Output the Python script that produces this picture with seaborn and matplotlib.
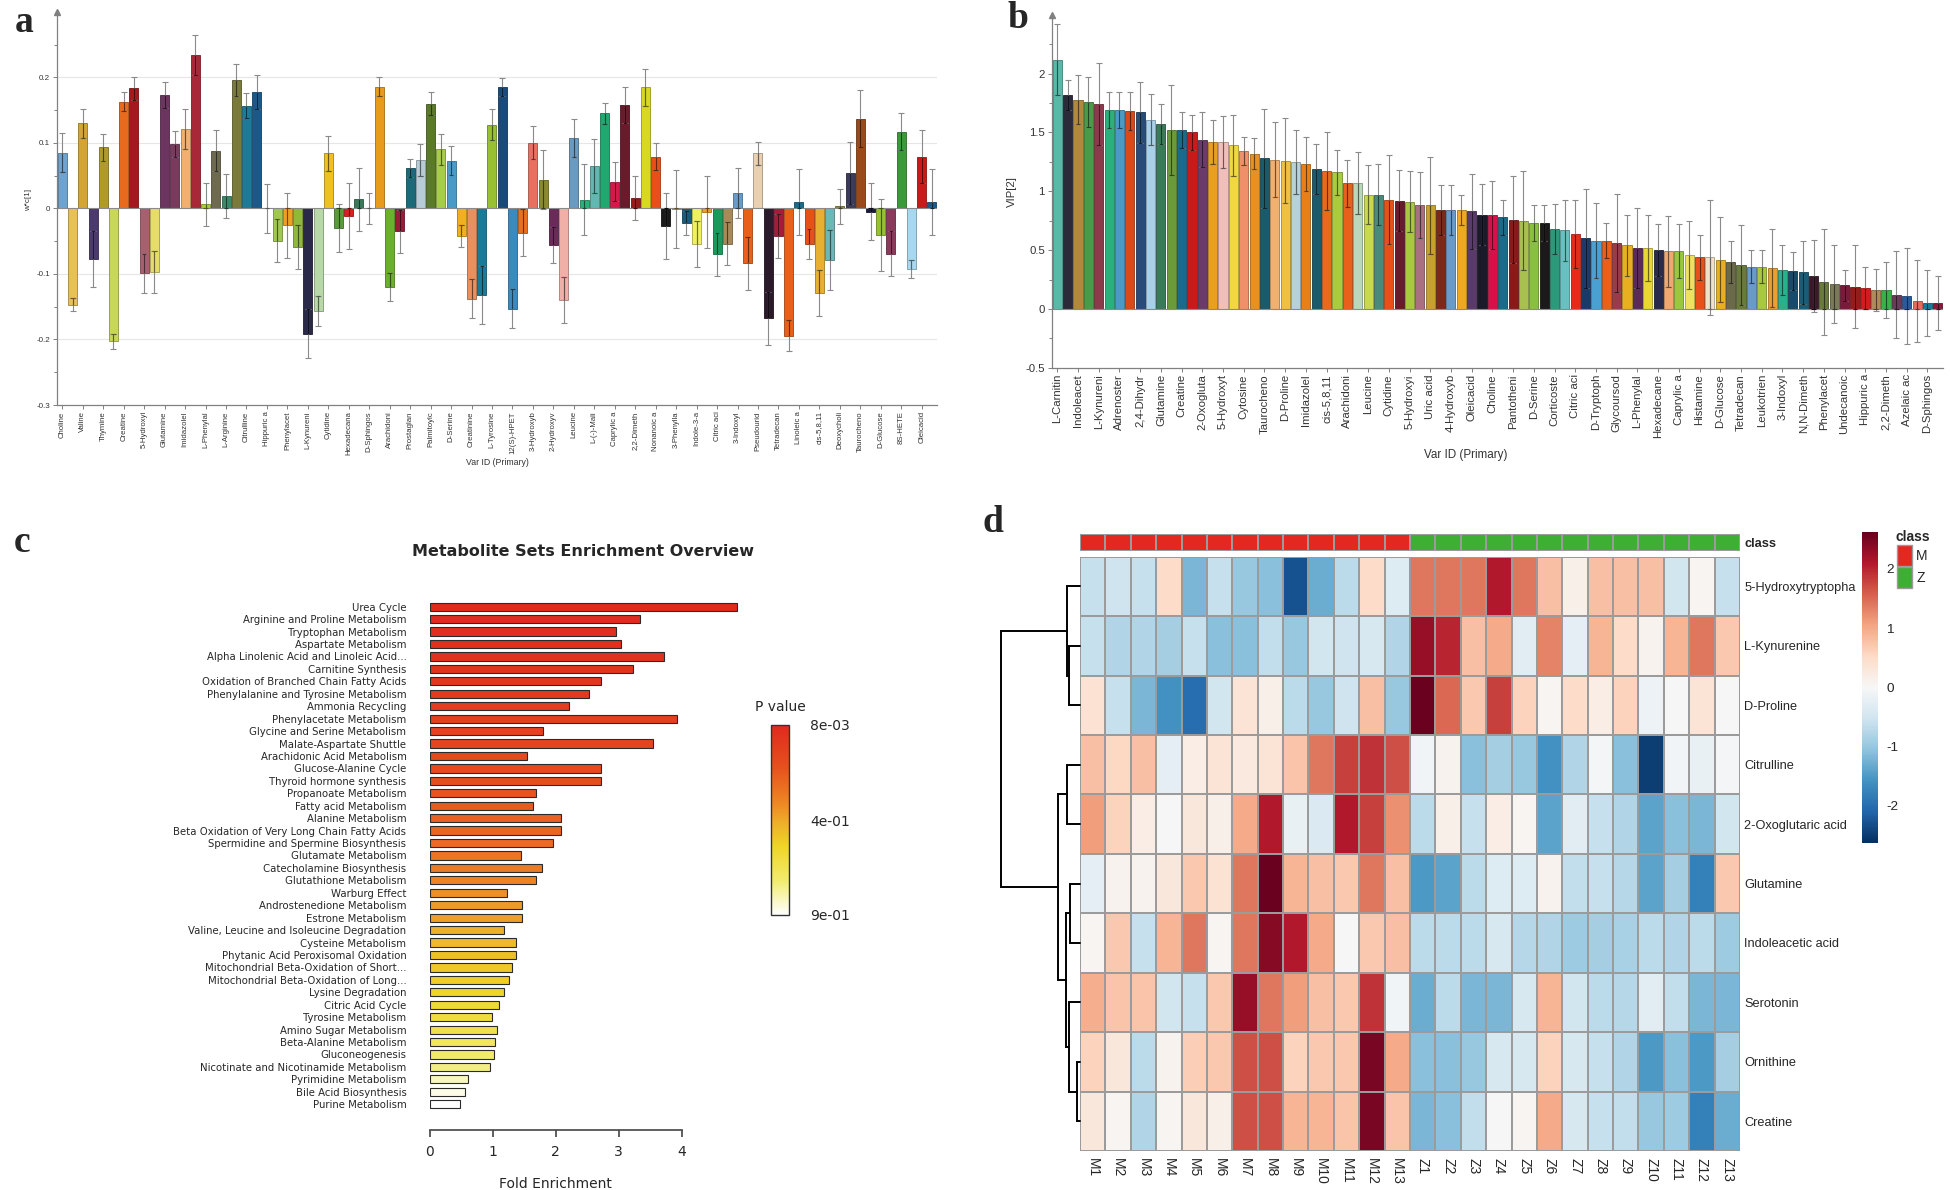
import numpy as np
import pandas as pd
import matplotlib
matplotlib.use("Agg")
import matplotlib.pyplot as plt
import seaborn as sns
from matplotlib.colors import LinearSegmentedColormap, ListedColormap, Normalize, to_rgb
from matplotlib.cm import ScalarMappable
from matplotlib.patches import Patch
from matplotlib import font_manager

# ---------------- data ----------------
# panel a: loadings w*c[1]
a_labels = ["Choline", "Valine", "Thymine", "Creatine", "5-Hydroxyi", "Glutamine", "Imidazolel",
            "L-Phenylal", "L-Arginine", "Citrulline", "Hippuric a", "Phenylacet", "L-Kynureni",
            "Cytidine", "Hexadecana", "D-Sphingos", "Arachidoni", "Prostaglan", "Palmitoylc",
            "D-Serine", "Creatinine", "L-Tyrosine", "12(S)-HPET", "3-Hydroxyb", "2-Hydroxyv",
            "Leucine", "L-(-)-Mali", "Caprylic a", "2,2-Dimeth", "Nonanoic a", "3-Phenylla",
            "Indole-3-a", "Citric aci", "3-Indoxyl", "Pseudourid", "Tetradecan", "Linoleic a",
            "cis-5,8,11", "Deoxycholi", "Taurocheno", "D-Glucose", "8S-HETE", "Oleicacid"]
a_values = [0.085, -0.147, 0.130, -0.077, 0.093, -0.203, 0.163, 0.183, -0.099, -0.097,
            0.173, 0.098, 0.121, 0.234, 0.006, 0.088, 0.019, 0.196, 0.157, 0.178,
            0.000, -0.049, -0.026, -0.059, -0.191, -0.156, 0.084, -0.030, -0.012, 0.014,
            0.000, 0.186, -0.120, -0.035, 0.062, 0.074, 0.160, 0.090, 0.073, -0.042,
            -0.138, -0.132, 0.128, 0.185, -0.153, -0.037, 0.100, 0.044, -0.056, -0.140,
            0.107, 0.013, 0.065, 0.145, 0.041, 0.158, 0.016, 0.185, 0.079, -0.027,
            -0.001, -0.022, -0.054, -0.006, -0.070, -0.054, 0.024, -0.084, 0.084, -0.168,
            -0.042, -0.194, 0.010, -0.054, -0.129, -0.079, 0.003, 0.054, 0.137, -0.005,
            -0.041, -0.069, 0.117, -0.092, 0.079, 0.010]
a_err = [0.030, 0.010, 0.022, 0.043, 0.021, 0.012, 0.014, 0.018, 0.030, 0.032,
         0.020, 0.020, 0.030, 0.030, 0.033, 0.031, 0.033, 0.024, 0.019, 0.026,
         0.037, 0.033, 0.050, 0.034, 0.038, 0.023, 0.027, 0.036, 0.050, 0.048,
         0.024, 0.014, 0.022, 0.033, 0.014, 0.024, 0.017, 0.024, 0.022, 0.017,
         0.030, 0.044, 0.023, 0.014, 0.030, 0.036, 0.025, 0.045, 0.028, 0.035,
         0.029, 0.054, 0.041, 0.016, 0.030, 0.028, 0.033, 0.028, 0.021, 0.050,
         0.060, 0.018, 0.035, 0.055, 0.033, 0.033, 0.038, 0.040, 0.018, 0.040,
         0.034, 0.023, 0.050, 0.023, 0.035, 0.046, 0.027, 0.047, 0.044, 0.043,
         0.055, 0.034, 0.028, 0.014, 0.040, 0.050]
a_colors = ["#6fa3cf", "#e8c05a", "#d4a534", "#4b3a6e", "#b09a28", "#c8d65a", "#e86a1e", "#a8171c",
            "#a8606e", "#e6dc6a", "#6b3560", "#7a3a5e", "#f0b070", "#a82838", "#a8cc3a", "#6e6a50",
            "#3a8a6a", "#7a7a3a", "#1d7a9a", "#1a5a8a", "#cccccc", "#a0c850", "#f0a020", "#90b83a",
            "#2a2a48", "#b8d8a8", "#f0c020", "#5a9a3a", "#d81e1e", "#3a7a5a", "#cccccc", "#e89a1a",
            "#6ab02a", "#9a1a3a", "#1a6a7a", "#b8ccd8", "#5a7a2a", "#a8cc48", "#4a9ac8", "#f0b020",
            "#e89060", "#1a7a9a", "#98c030", "#1a4a7a", "#3a8ac0", "#e8701a", "#e87060", "#8a8a2a",
            "#6a2a5a", "#f0b0a8", "#6a9ac0", "#2ab07a", "#60b8b0", "#20a870", "#d8184a", "#6a1a2a",
            "#9a1a1a", "#d8d820", "#e8501a", "#1a1a1a", "#e8a040", "#1a5a7a", "#f0f060", "#f0a020",
            "#1a9a5a", "#a88a5a", "#6a9ac8", "#e8601a", "#e8d0b0", "#2a1a2a", "#a81a3a", "#e8601a",
            "#1a6a8a", "#e8501a", "#e8b030", "#6ab8b8", "#8a8a3a", "#3a3a5a", "#9a4a1a", "#1a1a3a",
            "#98c030", "#8a3a5a", "#3a9a3a", "#a8d8f0", "#c81a1a", "#1a5a8a"]

# panel b: VIP[2]
b_labels = ["L-Carnitin", "Indoleacet", "L-Kynureni", "Adrenoster", "2,4-Dihydr", "Glutamine",
            "Creatine", "2-Oxogluta", "5-Hydroxyt", "Cytosine", "Taurocheno", "D-Proline",
            "Imidazolel", "cis-5,8,11", "Arachidoni", "Leucine", "Cytidine", "5-Hydroxyi",
            "Uric acid", "4-Hydroxyb", "Oleicacid", "Choline", "Pantotheni", "D-Serine",
            "Corticoste", "Citric aci", "D-Tryptoph", "Glycoursod", "L-Phenylal", "Hexadecane",
            "Caprylic a", "Histamine", "D-Glucose", "Tetradecan", "Leukotrien", "3-Indoxyl",
            "N,N-Dimeth", "Phenylacet", "Undecanoic", "Hippuric a", "2,2-Dimeth", "Azelaic ac",
            "D-Sphingos"]
b_values = [2.12, 1.82, 1.78, 1.76, 1.74, 1.69, 1.69, 1.68, 1.67, 1.61,
            1.57, 1.52, 1.52, 1.50, 1.44, 1.42, 1.42, 1.39, 1.34, 1.32,
            1.28, 1.27, 1.26, 1.25, 1.23, 1.19, 1.17, 1.16, 1.07, 1.07,
            0.97, 0.97, 0.93, 0.92, 0.91, 0.88, 0.88, 0.84, 0.84, 0.84,
            0.83, 0.80, 0.80, 0.78, 0.76, 0.75, 0.73, 0.73, 0.68, 0.67,
            0.64, 0.60, 0.58, 0.58, 0.56, 0.54, 0.52, 0.52, 0.50, 0.49,
            0.49, 0.46, 0.44, 0.44, 0.42, 0.40, 0.37, 0.36, 0.36, 0.35,
            0.33, 0.32, 0.31, 0.28, 0.23, 0.21, 0.20, 0.19, 0.18, 0.16,
            0.16, 0.12, 0.11, 0.07, 0.05, 0.05]
b_err = [0.30, 0.13, 0.21, 0.21, 0.35, 0.15, 0.15, 0.16, 0.26, 0.22,
         0.17, 0.38, 0.15, 0.15, 0.23, 0.19, 0.22, 0.26, 0.12, 0.13,
         0.42, 0.32, 0.36, 0.27, 0.23, 0.21, 0.33, 0.19, 0.20, 0.26,
         0.25, 0.26, 0.38, 0.26, 0.26, 0.28, 0.41, 0.21, 0.21, 0.13,
         0.32, 0.26, 0.29, 0.15, 0.37, 0.42, 0.15, 0.15, 0.21, 0.26,
         0.29, 0.42, 0.32, 0.15, 0.42, 0.26, 0.34, 0.28, 0.22, 0.30,
         0.23, 0.29, 0.19, 0.49, 0.36, 0.18, 0.34, 0.14, 0.14, 0.33,
         0.21, 0.16, 0.27, 0.31, 0.45, 0.33, 0.13, 0.35, 0.18, 0.18,
         0.24, 0.37, 0.41, 0.35, 0.28, 0.23]
b_colors = ["#5ab8a8", "#2a2a3a", "#b08a3a", "#4a9a4a", "#8a3a4a", "#2ab07a", "#4a9ac8", "#d84a1a",
            "#2a4a7a", "#a8d0e8", "#3a7a5a", "#6a9a3a", "#1a6a8a", "#c81a1a", "#6a3a6a", "#e8a020",
            "#f0c0b8", "#f0d840", "#f0906a", "#e89020", "#1a5a6a", "#f0b070", "#f0c040", "#b8d0d8",
            "#e8801a", "#1a5a6a", "#e86a1a", "#a8cc40", "#e8601a", "#b8d8b8", "#c8d850", "#4a8a7a",
            "#e8501a", "#6a1a2a", "#a8c840", "#a87080", "#c8a030", "#7a2a1a", "#6a9ac8", "#f0a820",
            "#5a3a6a", "#1a1a2a", "#d8104a", "#1a6a8a", "#8a1a1a", "#a8c050", "#8ac040", "#1a1a1a",
            "#2a9a7a", "#6ac0c0", "#e82a1a", "#1a3a6a", "#4aa0d0", "#e8601a", "#9a3a4a", "#e8b020",
            "#5a2a5a", "#e8d830", "#2a2a4a", "#f0a870", "#98c840", "#f0e060", "#e8501a", "#f0e0c8",
            "#e8b020", "#6a6a4a", "#6a7a3a", "#6a9ac8", "#a8c840", "#e8a030", "#2ab08a", "#1a4a6a",
            "#1a5a7a", "#3a1a2a", "#6a7a3a", "#7a7a5a", "#7a1a3a", "#9a1a1a", "#d81a1a", "#b08a5a",
            "#3ab04a", "#6a3a5a", "#2a5a9a", "#e86a5a", "#1a7a9a", "#8a1a3a"]

# panel c: enrichment
c_names = ["Urea Cycle", "Arginine and Proline Metabolism", "Tryptophan Metabolism",
           "Aspartate Metabolism", "Alpha Linolenic Acid and Linoleic Acid...", "Carnitine Synthesis",
           "Oxidation of Branched Chain Fatty Acids", "Phenylalanine and Tyrosine Metabolism",
           "Ammonia Recycling", "Phenylacetate Metabolism", "Glycine and Serine Metabolism",
           "Malate-Aspartate Shuttle", "Arachidonic Acid Metabolism", "Glucose-Alanine Cycle",
           "Thyroid hormone synthesis", "Propanoate Metabolism", "Fatty acid Metabolism",
           "Alanine Metabolism", "Beta Oxidation of Very Long Chain Fatty Acids",
           "Spermidine and Spermine Biosynthesis", "Glutamate Metabolism",
           "Catecholamine Biosynthesis", "Glutathione Metabolism", "Warburg Effect",
           "Androstenedione Metabolism", "Estrone Metabolism",
           "Valine, Leucine and Isoleucine Degradation", "Cysteine Metabolism",
           "Phytanic Acid Peroxisomal Oxidation", "Mitochondrial Beta-Oxidation of Short...",
           "Mitochondrial Beta-Oxidation of Long...", "Lysine Degradation", "Citric Acid Cycle",
           "Tyrosine Metabolism", "Amino Sugar Metabolism", "Beta-Alanine Metabolism",
           "Gluconeogenesis", "Nicotinate and Nicotinamide Metabolism", "Pyrimidine Metabolism",
           "Bile Acid Biosynthesis", "Purine Metabolism"]
c_fold = [4.88, 3.34, 2.95, 3.03, 3.72, 3.22, 2.72, 2.53, 2.21, 3.93,
          1.80, 3.54, 1.54, 2.72, 2.72, 1.69, 1.64, 2.08, 2.08, 1.96,
          1.44, 1.78, 1.69, 1.22, 1.47, 1.47, 1.18, 1.36, 1.36, 1.31,
          1.26, 1.18, 1.10, 0.98, 1.07, 1.03, 1.01, 0.95, 0.60, 0.55, 0.48]
c_pval = [0.008, 0.02, 0.03, 0.04, 0.05, 0.06, 0.07, 0.09, 0.11, 0.12,
          0.14, 0.15, 0.17, 0.18, 0.19, 0.22, 0.24, 0.26, 0.27, 0.29,
          0.32, 0.34, 0.36, 0.40, 0.42, 0.43, 0.47, 0.50, 0.52, 0.54,
          0.56, 0.58, 0.61, 0.63, 0.66, 0.70, 0.73, 0.76, 0.83, 0.87, 0.90]

# panel d: heatmap (z-scores)
d_rows = ["5-Hydroxytryptopha", "L-Kynurenine", "D-Proline", "Citrulline", "2-Oxoglutaric acid",
          "Glutamine", "Indoleacetic acid", "Serotonin", "Ornithine", "Creatine"]
d_cols = ["M%d" % i for i in range(1, 14)] + ["Z%d" % i for i in range(1, 14)]
d_class = ["M"] * 13 + ["Z"] * 13
d_values = [
    [-0.6, -0.55, -0.6, 0.5, -1.2, -0.6, -1.0, -1.1, -2.3, -1.3, -0.7, 0.5, -0.35,
     1.4, 1.4, 1.4, 2.1, 1.4, 0.8, 0.15, 0.8, 0.8, 0.8, -0.5, 0.05, -0.6],
    [-0.6, -0.8, -0.8, -0.9, -0.6, -1.1, -1.1, -0.65, -1.0, -0.5, -0.55, -0.45, -0.8,
     2.3, 2.0, 0.8, 1.0, -0.3, 1.3, -0.25, 0.9, 0.5, 0.1, 0.9, 1.4, 0.7],
    [0.4, -0.6, -1.2, -1.6, -2.0, -0.5, 0.35, 0.15, -0.7, -1.0, -0.55, 0.8, -1.0,
     2.6, 1.5, 0.7, 1.8, 0.6, 0.05, 0.5, 0.2, 0.6, -0.15, 0.0, 0.35, 0.0],
    [0.8, 0.55, 0.8, -0.25, 0.2, 0.35, 0.25, 0.35, 0.75, 1.4, 1.8, 1.9, 1.7,
     -0.1, 0.1, -1.1, -0.9, -1.0, -1.6, -0.8, -0.05, -1.1, -2.5, -0.1, -0.2, -0.05],
    [1.1, 0.6, 0.2, 0.0, 0.3, 0.15, 1.0, 2.1, -0.2, -0.4, 2.1, 1.8, 1.2,
     -0.7, 0.15, -0.6, 0.2, 0.05, -1.4, -0.3, -0.6, -0.8, -1.4, -1.1, -1.2, -0.5],
    [-0.25, 0.1, 0.1, 0.3, 0.7, 0.4, 1.4, 2.6, 0.9, 0.8, 0.7, 1.4, 0.8,
     -1.5, -1.4, -0.7, -0.35, -0.35, 0.1, -0.65, -0.6, -0.75, -1.4, -0.9, -1.8, 0.7],
    [0.05, 0.7, -0.6, 0.9, 1.4, 0.05, 1.4, 2.4, 2.1, 1.0, 0.0, 0.7, 0.8,
     -0.7, -0.7, -0.7, -0.45, -0.75, -0.8, -0.95, -0.9, -0.85, -0.7, -0.8, -0.7, -0.95],
    [0.95, 0.75, 0.75, -0.5, -0.6, 0.7, 2.3, 1.4, 1.1, 0.8, 0.7, 1.9, -0.1,
     -1.3, -0.7, -1.2, -1.2, -0.45, 0.9, -0.5, -0.7, -0.75, -0.3, -0.65, -1.2, -1.2],
    [0.6, 0.3, -0.7, 0.1, 0.65, 0.7, 1.7, 1.7, 0.6, 0.7, 0.7, 2.5, 1.0,
     -1.1, -1.1, -1.0, -0.45, -0.45, 0.6, -0.45, -0.6, -0.8, -1.5, -1.1, -1.5, -0.9],
    [0.3, 0.05, -0.8, 0.05, 0.3, 0.15, 1.7, 1.7, 0.9, 0.9, 0.75, 2.5, 0.75,
     -1.2, -1.1, -0.65, 0.0, 0.05, 1.0, -0.45, -0.6, -0.65, -1.0, -0.95, -1.8, -1.3],
]
# row dendrogram merges: (left, right, height); leaves 0-9, new nodes from 10
d_merges = [(1, 2, 11.3), (0, 10, 13.3), (3, 4, 12.7), (5, 6, 10.0), (8, 9, 3.3),
            (7, 14, 10.7), (13, 15, 14.0), (12, 16, 21.7), (11, 17, 79.0)]

# ---------------- setup ----------------
W, H = 1950, 1190


def rect(x0, y0, x1, y1):
    return [x0 / W, 1 - y1 / H, (x1 - x0) / W, (y1 - y0) / H]


def have(name):
    try:
        font_manager.findfont(font_manager.FontProperties(family=name), fallback_to_default=False)
        return True
    except Exception:
        return False


def darker(c, f=0.7):
    r, g, b = to_rgb(c)
    return (r * f, g * f, b * f)


sns.set_style("white")
plt.rcParams["font.family"] = ["DejaVu Sans"]
narrow = "Liberation Sans Narrow" if have("Liberation Sans Narrow") else "Liberation Sans"
lab_size = 10 if narrow == "Liberation Sans Narrow" else 9.2
lab_stretch = "condensed"

fig = plt.figure(figsize=(19.5, 11.9), dpi=100)
spine_c = "#808080"
txt_c = "#333333"


def simca_bars(ax, values, err, colors, labels, fs_tick, fs_lab):
    x = np.arange(len(values))
    keys = [str(i) for i in x]
    sns.barplot(x=x, y=values, hue=keys, palette=dict(zip(keys, colors)), legend=False,
                width=0.88, errorbar=None, saturation=1, ax=ax)
    for p in ax.patches:
        p.set_edgecolor(darker(p.get_facecolor()))
        p.set_linewidth(0.6)
    ax.errorbar(x, values, yerr=err, fmt="none", ecolor="#8a8a8a", elinewidth=0.8,
                capsize=2, capthick=0.8, zorder=5)
    # part of the whisker lying inside the bar is drawn darker
    v = np.array(values)
    e = np.array(err)
    inner = np.where(v >= 0, np.maximum(v - e, 0), np.minimum(v + e, 0))
    dark = [darker(c, 0.45) for c in colors]
    ax.vlines(x, v, inner, colors=dark, lw=0.8, zorder=6)
    ax.hlines(inner, x - 0.22, x + 0.22, colors=dark, lw=0.8, zorder=6)
    ax.axhline(0, color="#8a8a8a", lw=0.8, zorder=1)
    ax.set_xticks(x[::2])
    ax.set_xticklabels(labels, rotation=90, fontsize=fs_tick, color=txt_c, family="Liberation Sans")
    for s in ["top", "right"]:
        ax.spines[s].set_visible(False)
    for s in ["left", "bottom"]:
        ax.spines[s].set_color(spine_c)
        ax.spines[s].set_linewidth(0.9)
    ax.tick_params(axis="x", length=3, width=0.7, color=spine_c, pad=1.5, bottom=True)
    ax.tick_params(axis="y", which="both", width=0.7, color=spine_c, labelsize=fs_lab,
                   labelcolor=txt_c, pad=2, left=True)
    ax.tick_params(axis="y", which="major", length=3)
    ax.tick_params(axis="y", which="minor", length=2)
    ax.plot([0], [1], marker="^", color=spine_c, markersize=5, transform=ax.transAxes, clip_on=False)
    ax.set_xlabel("")
    ax.set_ylabel("")


# ---------------- panel a ----------------
axa = fig.add_axes(rect(57, 11.8, 937, 405))
simca_bars(axa, a_values, a_err, a_colors, a_labels, 5.6, 5.8)
for v in [-0.2, -0.1, 0.1, 0.2]:
    axa.axhline(v, color="#e6e6e6", lw=0.8, zorder=0)
axa.set_xlim(-0.52, 85.5)
axa.set_ylim(-0.3, 0.3)
axa.set_yticks([-0.3, -0.2, -0.1, 0, 0.1, 0.2])
axa.set_yticklabels(["-0.3", "-0.2", "-0.1", "0", "0.1", "0.2"], family="Liberation Sans")
axa.set_yticks(np.arange(-0.3, 0.3, 0.05), minor=True)
fig.text(29 / W, 1 - 200 / H, "w*c[1]", rotation=90, ha="center", va="center",
         fontsize=5.8, color=txt_c, family="Liberation Sans")
fig.text(497 / W, 1 - 463 / H, "Var ID (Primary)", ha="center", va="center",
         fontsize=6.3, color=txt_c, family="Liberation Sans")

# ---------------- panel b ----------------
axb = fig.add_axes(rect(1051.7, 14.8, 1943, 367.8))
simca_bars(axb, b_values, b_err, b_colors, b_labels, 8.2, 8.2)
axb.set_xlim(-0.54, 85.5)
axb.set_ylim(-0.5, 2.5)
axb.set_yticks([-0.5, 0, 0.5, 1, 1.5, 2])
axb.set_yticklabels(["-0.5", "0", "0.5", "1", "1.5", "2"], family="Liberation Sans")
axb.set_yticks(np.arange(-0.5, 2.5, 0.25), minor=True)
fig.text(1012 / W, 1 - 192 / H, "VIP[2]", rotation=90, ha="center", va="center",
         fontsize=8.2, color=txt_c, family="Liberation Sans")
fig.text(1466 / W, 1 - 455 / H, "Var ID (Primary)", ha="center", va="center",
         fontsize=8.4, color=txt_c, family="Liberation Sans")

# ---------------- panel c ----------------
pcmap = LinearSegmentedColormap.from_list(
    "pval", [(0.0, "#e02a1e"), (0.22, "#e6501e"), (0.42, "#ee8a24"), (0.52, "#eeb02a"),
             (0.64, "#efd526"), (0.82, "#f1ec6e"), (1.0, "#ffffff")])
pnorm = Normalize(0.008, 0.9)
c_colors = [pcmap(pnorm(p)) for p in c_pval]

axc = fig.add_axes(rect(430, 595, 744.5, 1130))
sns.barplot(x=c_fold, y=c_names, hue=c_names, palette=dict(zip(c_names, c_colors)), legend=False,
            orient="h", width=0.66, saturation=1, errorbar=None, edgecolor="#2b2b2b",
            linewidth=0.8, ax=axc)
axc.set_xlim(0, 5.0)
axc.set_ylim(42.07, -0.94)
for s in ["top", "right", "left"]:
    axc.spines[s].set_visible(False)
axc.spines["bottom"].set_bounds(0, 4)
axc.spines["bottom"].set_color("#444444")
axc.spines["bottom"].set_linewidth(1.2)
axc.set_xticks([0, 1, 2, 3, 4])
axc.tick_params(axis="x", length=5, width=1.2, color="#444444", labelsize=10, pad=6, bottom=True)
axc.tick_params(axis="y", length=0, pad=17, labelsize=7.3)
axc.set_ylabel("")
axc.set_xlabel("Fold Enrichment", fontsize=10)
axc.xaxis.set_label_coords(2 / 5.0, -0.088)
fig.text(583 / W, 1 - 552 / H, "Metabolite Sets Enrichment Overview", ha="center", va="center",
         fontsize=11.5, fontweight="bold")

axcb = fig.add_axes(rect(771, 725, 789, 915))
cb = fig.colorbar(ScalarMappable(norm=pnorm, cmap=pcmap), cax=axcb)
axcb.invert_yaxis()
cb.set_ticks([0.008, 0.454, 0.9])
cb.set_ticklabels(["8e-03", "4e-01", "9e-01"])
axcb.tick_params(length=0, labelsize=10, pad=15)
cb.outline.set_edgecolor("#333333")
cb.outline.set_linewidth(1.0)
fig.text(780 / W, 1 - 707 / H, "P value", ha="center", va="center", fontsize=10)

# ---------------- panel d ----------------
dfd = pd.DataFrame(d_values, index=d_rows, columns=d_cols)
grid_c = "#9b9b9b"
red_c, green_c = "#e2281f", "#3db034"

axh = fig.add_axes(rect(1080, 556.7, 1740, 1151))
axcl = fig.add_axes(rect(1080, 534, 1740, 550.7))
axdc = fig.add_axes(rect(1862, 531.7, 1877.7, 842.7))
axdd = fig.add_axes(rect(1000, 556.7, 1080, 1151))

sns.heatmap(dfd, ax=axh, cmap="RdBu_r", vmin=-2.63, vmax=2.63, linewidths=1.1, linecolor=grid_c,
            cbar_ax=axdc, xticklabels=True, yticklabels=True)
axh.yaxis.tick_right()
axh.set_yticklabels(d_rows, rotation=0, fontsize=lab_size, family=narrow, stretch=lab_stretch)
axh.set_xticklabels(d_cols, rotation=270, fontsize=10, family="Liberation Sans", va="top")
axh.tick_params(length=0, pad=3)
axh.tick_params(axis="x", pad=5)
axh.set_xlabel("")
axh.set_ylabel("")

codes = np.array([[0 if c == "M" else 1 for c in d_class]])
sns.heatmap(codes, ax=axcl, cmap=ListedColormap([red_c, green_c]), cbar=False, linewidths=1.1,
            linecolor=grid_c, xticklabels=False, yticklabels=["class"])
axcl.yaxis.tick_right()
axcl.set_yticklabels(["class"], rotation=0, fontsize=lab_size, family=narrow, fontweight="bold")
axcl.tick_params(length=0, pad=3)

cbd = axh.collections[0].colorbar
cbd.set_ticks([-2, -1, 0, 1, 2])
cbd.set_ticklabels(["-2", "-1", "0", "1", "2"])
cbd.outline.set_visible(False)
axdc.tick_params(length=0, labelsize=lab_size + 0.5, pad=6)
for t in axdc.get_yticklabels():
    t.set_family(narrow)

pos = {i: (i + 0.5, 0.0) for i in range(len(d_rows))}
for k, (l, r, h) in enumerate(d_merges):
    (yl, hl), (yr, hr) = pos[l], pos[r]
    axdd.plot([hl, h, h, hr], [yl, yl, yr, yr], color="black", lw=1.4, clip_on=False,
              solid_joinstyle="miter")
    pos[len(d_rows) + k] = ((yl + yr) / 2, h)
axdd.set_xlim(80, 0)
axdd.set_ylim(len(d_rows), 0)
axdd.axis("off")

fig.legend(handles=[Patch(facecolor=red_c, edgecolor=grid_c, label="M"),
                    Patch(facecolor=green_c, edgecolor=grid_c, label="Z")],
           title="class", loc="upper left", bbox_to_anchor=(1895 / W, 1 - 530 / H), frameon=False,
           prop={"family": narrow, "size": lab_size + 0.8},
           title_fontproperties={"family": narrow, "size": lab_size + 0.8, "weight": "bold"},
           handlelength=1.1, handleheight=1.9, handletextpad=0.3, labelspacing=0.1,
           borderaxespad=0, borderpad=0)

# ---------------- panel letters ----------------
for lx, ly, s in [(24, 22, "a"), (1018, 19, "b"), (22, 543, "c"), (993, 522, "d")]:
    fig.text(lx / W, 1 - ly / H, s, ha="center", va="center", fontsize=27, fontweight="bold",
             family="Liberation Serif")

fig.savefig("out.png", dpi=100)
